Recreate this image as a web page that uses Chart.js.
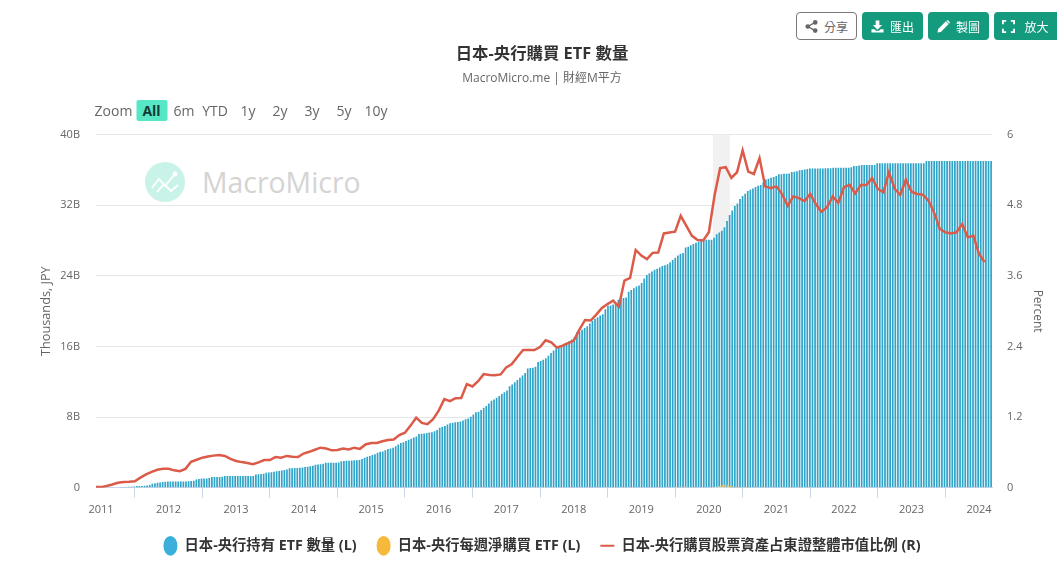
<!DOCTYPE html>
<html lang="zh-Hant">
<head>
<meta charset="utf-8">
<title>日本-央行購買 ETF 數量</title>
<script src="https://cdn.jsdelivr.net/npm/chart.js@4"></script>
<style>
html,body{margin:0;padding:0;background:#fff;}
#wrap{position:relative;width:1057px;height:584px;overflow:hidden;font-family:'Open Sans','Noto Sans CJK TC',sans-serif;}
canvas{position:absolute;left:0;top:0;}
.btn{position:absolute;top:12px;height:28px;box-sizing:border-box;border-radius:4px;background:#149b7e;color:#fff;font-size:12px;display:flex;align-items:center;justify-content:center;gap:6px;font-family:'Noto Sans CJK TC',sans-serif;}
.btn.share{background:#fff;border:1px solid #7a7a7a;color:#666;}
.btn svg{width:13px;height:13px;display:block;}
.rs{position:absolute;top:100px;height:21px;line-height:21px;font-size:14px;color:#666;text-align:center;font-family:'Open Sans',sans-serif;transform:translateX(-50%);}
.rs.on{left:151.5px;width:31px;background:#57e6c6;border-radius:2px;color:#123c35;font-weight:700;}
#wm{position:absolute;left:145px;top:162px;display:flex;align-items:center;}
#wmt{position:absolute;left:57px;top:0;line-height:40px;font-size:28.4px;color:#d4d4d4;font-family:'Open Sans',sans-serif;white-space:nowrap;}
</style>
</head>
<body>
<div id="wrap">
  <div id="wm">
    <svg width="40" height="40" viewBox="0 0 40 40"><circle cx="20" cy="20" r="20" fill="#c9f3e9"/><path d="M7 26 L14 17 L20 24 L29 13 M12 30 L19 22 L26 29 L33 23" fill="none" stroke="#fff" stroke-width="1.8"/><circle cx="30" cy="12" r="2.4" fill="#fff"/></svg>
    <div id="wmt">MacroMicro</div>
  </div>
  <canvas id="c" width="1057" height="584"></canvas>
  <div class="btn share" style="left:796px;width:61px"><svg viewBox="0 0 14 14"><g fill="#666"><circle cx="11" cy="2.6" r="2.5"/><circle cx="11" cy="11.4" r="2.5"/><circle cx="3" cy="7" r="2.5"/></g><path d="M11 2.6 L3 7 L11 11.4" stroke="#666" stroke-width="1.4" fill="none"/></svg><span>分享</span></div>
  <div class="btn" style="left:862px;width:61px"><svg viewBox="0 0 14 14" fill="#fff"><path d="M5 0.5h4v5h3L7 10.5 2 5.5h3z"/><path d="M0.5 10h3.2l1.6 1.6h3.4L10.3 10h3.2v3.5H.5z"/></svg><span>匯出</span></div>
  <div class="btn" style="left:928px;width:61px"><svg viewBox="0 0 14 14" fill="#fff"><path d="M0.5 13.5 L1.2 9.8 L9.6 1.4 L12.6 4.4 L4.2 12.8z"/><path d="M10.4 0.6 a1.3 1.3 0 0 1 1.8 0 l1.2 1.2 a1.3 1.3 0 0 1 0 1.8 l-.3.3 -3-3z"/></svg><span>製圖</span></div>
  <div class="btn" style="left:994px;width:63px;border-radius:4px 0 0 4px"><svg viewBox="0 0 14 14" fill="none" stroke="#fff" stroke-width="2"><path d="M1 4.5V1h3.5M9.500 1H13v3.500M13 9.500V13H9.500M4.500 13H1V9.500"/></svg><span style="margin-left:3px">放大</span></div>
  <div class="rs" style="left:113.5px">Zoom</div>
  <div class="rs on">All</div>
  <div class="rs" style="left:184px">6m</div>
  <div class="rs" style="left:215px">YTD</div>
  <div class="rs" style="left:248px">1y</div>
  <div class="rs" style="left:280px">2y</div>
  <div class="rs" style="left:312px">3y</div>
  <div class="rs" style="left:344px">5y</div>
  <div class="rs" style="left:376px">10y</div>
</div>
<script>
const chartTitle = '日本-央行購買 ETF 數量';
const chartSubtitle = 'MacroMicro.me | 財經M平方';
const seriesNames = ['日本-央行持有 ETF 數量 (L)', '日本-央行每週淨購買 ETF (L)', '日本-央行購買股票資產占東證整體市值比例 (R)'];
const yearTicks = [2011,2012,2013,2014,2015,2016,2017,2018,2019,2020,2021,2022,2023,2024];

// Holdings, billions, one reading per fortnight
const hold2010 = [0,0];
const hold2011 = [0,0,0,0,0,0,0,.08,.08,.08,.1,.12,.15,.19,.19,.19,.22,.26,.3,.45,.5,.55,.6,.64,.68,.7];
const hold2012 = [.7,.7,.7,.7,.7,.7,.7,.72,.75,.8,.92,.98,1.05,1.05,1.05,1.1,1.2,1.2,1.2,1.22,1.25,1.32,1.32,1.32,1.32,1.33];
const hold2013 = [1.33,1.33,1.33,1.33,1.33,1.33,1.33,1.5,1.52,1.55,1.58,1.7,1.72,1.75,1.8,1.85,1.9,1.95,2,2.05,2.2,2.2,2.22,2.22,2.25,2.3];
const hold2014 = [2.35,2.38,2.42,2.5,2.6,2.62,2.65,2.7,2.83,2.83,2.83,2.83,2.83,2.85,3,3.02,3.04,3.06,3.08,3.1,3.1,3.15,3.25,3.4,3.5,3.6];
const hold2015 = [3.7,3.8,3.95,4.07,4.1,4.25,4.38,4.45,4.52,4.7,4.9,5.05,5.15,5.3,5.42,5.55,5.7,5.8,6.08,6.12,6.15,6.2,6.25,6.28,6.4,6.55];
const hold2016 = [6.8,6.9,7,7.15,7.3,7.35,7.4,7.45,7.5,7.6,7.75,7.85,8.05,8.3,8.55,8.6,8.8,9.05,9.25,9.55,9.85,10,10.2,10.4,10.6,10.8];
const hold2017 = [11,11.5,11.7,11.95,12.2,12.45,12.7,13,13.5,13.55,13.6,13.7,14.25,14.35,14.5,14.65,14.95,15.25,15.55,15.8,15.9,16.1,16.3,16.45,16.6,16.8];
const hold2018 = [17,17.6,17.7,17.9,18.1,18.3,18.6,18.9,19.15,19.3,19.5,19.65,20.2,20.6,20.65,20.75,20.8,21.3,21.4,21.5,21.55,22.2,22.4,22.6,22.8,22.9];
const hold2019 = [23.2,23.7,24.1,24.3,24.5,24.7,24.8,24.95,25.1,25.2,25.3,25.55,25.8,26.05,26.3,26.5,26.6,27.2,27.3,27.45,27.6,27.75,27.85,28,28.05,28.1];
const hold2020 = [28.1,28.1,28.3,28.7,28.9,29.1,29.5,30.2,30.9,31.4,31.9,32.2,32.7,33.05,33.3,33.6,33.75,33.9,34.05,34.2,34.3,34.6,34.9,35,35.1,35.2];
const hold2021 = [35.3,35.5,35.5,35.55,35.55,35.6,35.75,35.8,35.85,35.95,36,36.05,36.1,36.15,36.15,36.15,36.15,36.15,36.15,36.2,36.2,36.2,36.25,36.25,36.25,36.25];
const hold2022 = [36.25,36.25,36.25,36.3,36.45,36.45,36.5,36.55,36.55,36.55,36.55,36.55,36.55,36.75,36.75,36.75,36.75,36.75,36.75,36.75,36.75,36.75,36.75,36.75,36.75,36.75];
const hold2023 = [36.75,36.75,36.75,36.75,36.75,36.75,37,37,37,37,37,37,37,37,37,37,37,37,37,37,37,37,37,37,37,37];
const hold2024 = [37.02,37.02,37.02,37.02,37.02,37.02];
const holdings = [].concat(hold2010,hold2011,hold2012,hold2013,hold2014,hold2015,hold2016,hold2017,hold2018,hold2019,hold2020,hold2021,hold2022,hold2023,hold2024);
const firstBarYear = 2010.955;
const barStepYears = 14/365.25;

// Weekly net purchases, billions
const netBuyYears = [2018.0,2018.8,2019.58,2019.65,2019.72,2020.12,2020.16,2020.2,2020.24,2020.28,2020.32,2020.36,2020.4,2020.48,2020.55,2020.78];
const netBuyValues = [.08,.1,.12,.15,.1,.15,.2,.28,.35,.3,.22,.18,.15,.1,.1,.1];

// Share of TOPIX market value, percent, monthly from Dec 2010
const pct2010 = [.01];
const pct2011 = [.01,.03,.055,.085,.095,.1,.11,.17,.225,.27,.305,.32];
const pct2012 = [.32,.295,.28,.32,.44,.475,.51,.53,.545,.555,.54,.49];
const pct2013 = [.455,.435,.42,.4,.43,.47,.47,.52,.51,.54,.525,.52];
const pct2014 = [.58,.61,.645,.68,.665,.635,.64,.665,.65,.68,.66,.735];
const pct2015 = [.76,.76,.79,.81,.82,.895,.935,1.055,1.19,1.1,1.08,1.165];
const pct2016 = [1.31,1.505,1.47,1.52,1.525,1.76,1.72,1.81,1.93,1.915,1.91,1.925];
const pct2017 = [2.045,2.1,2.225,2.34,2.34,2.34,2.39,2.505,2.47,2.38,2.415,2.455];
const pct2018 = [2.5,2.685,2.85,2.84,2.94,3.055,3.12,3.18,3.075,3.52,3.565,4.04];
const pct2019 = [3.945,3.885,3.99,3.995,4.32,4.335,4.35,4.62,4.45,4.28,4.21,4.2];
const pct2020 = [4.34,4.96,5.43,5.445,5.265,5.36,5.73,5.37,5.33,5.6,5.12,5.09];
const pct2021 = [5.12,4.99,4.79,4.95,4.92,4.87,4.99,4.82,4.69,4.765,4.95,4.84];
const pct2022 = [5.105,5.145,5,5.145,5.145,5.26,5.08,5.02,5.36,5.08,4.975,5.235];
const pct2023 = [5.03,4.99,4.98,4.88,4.68,4.4,4.34,4.32,4.34,4.48,4.255,4.28];
const pct2024 = [3.97,3.83];
const percent = [].concat(pct2010,pct2011,pct2012,pct2013,pct2014,pct2015,pct2016,pct2017,pct2018,pct2019,pct2020,pct2021,pct2022,pct2023,pct2024);

const recessionBand = [2020.06, 2020.31];

const FONT = "'Open Sans','Noto Sans CJK TC',sans-serif";
const xRange = [2010.926, 2024.192];

const bandPlugin = {
  id: 'band',
  afterLayout(chart) {
    // Centre the title, subtitle and legend 2px left of the plot centre, as in the reference
    chart.boxes.forEach(b => {
      if (b === chart.legend || (b.options && b.options.text)) { b.right -= 4; }
    });
  },
  beforeDatasetsDraw(chart) {
    const {ctx, chartArea, scales} = chart;
    const a = scales.x.getPixelForValue(recessionBand[0]);
    const b = scales.x.getPixelForValue(recessionBand[1]);
    ctx.save();
    ctx.fillStyle = '#f1f1f1';
    ctx.fillRect(a, chartArea.top, b - a, chartArea.bottom - chartArea.top);
    ctx.restore();
  }
};

new Chart(document.getElementById('c'), {
  type: 'bar',
  plugins: [bandPlugin],
  data: {
    datasets: [
      { label: seriesNames[0], yAxisID: 'y', backgroundColor: '#2ea4c8', borderWidth: 0, inflateAmount: 0, barThickness: 1.7, grouped: false, order: 3,
        data: holdings.map((v, i) => ({x: firstBarYear + i * barStepYears, y: v})) },
      { label: seriesNames[1], yAxisID: 'y', backgroundColor: '#f6c25e', borderWidth: 0, inflateAmount: 0, barThickness: 1.7, grouped: false, order: 2,
        data: netBuyValues.map((v, i) => ({x: netBuyYears[i], y: v})) },
      { label: seriesNames[2], type: 'line', yAxisID: 'y1', borderColor: '#dc5b48', backgroundColor: '#dc5b48', borderWidth: 2.5, pointRadius: 0, tension: 0, order: 1,
        data: percent.map((v, i) => ({x: 2011 + (i - 1) / 12, y: v})) }
    ]
  },
  options: {
    responsive: false,
    animation: false,
    layout: { padding: { left: 0, right: 0, top: 0, bottom: 21 } },
    plugins: {
      tooltip: { enabled: false },
      title: { display: true, text: chartTitle, fullSize: false, color: '#333', font: { family: FONT, size: 16.4, weight: '700' }, padding: { top: 44, bottom: 8 } },
      subtitle: { display: true, text: chartSubtitle, fullSize: false, color: '#666', font: { family: FONT, size: 12, weight: '400' }, padding: { top: 0, bottom: 48.5 } },
      legend: {
        position: 'bottom', fullSize: false,
        labels: {
          color: '#333', font: { family: FONT, size: 14.3, weight: '700' }, usePointStyle: true, pointStyleWidth: 14, boxHeight: 14, padding: 20,
          generateLabels(chart) {
            const styles = ['circle', 'circle', 'line'];
            const cols = ['#3aafd9', '#f6b93b', '#dc5b48'];
            return chart.data.datasets.map((d, i) => ({
              text: d.label, datasetIndex: i, fillStyle: cols[i], strokeStyle: cols[i], lineWidth: i === 2 ? 2 : 0, pointStyle: styles[i], fontColor: '#333'
            }));
          }
        }
      }
    },
    scales: {
      x: {
        type: 'linear', offset: false, min: xRange[0], max: xRange[1],
        afterBuildTicks(s) { s.ticks = yearTicks.map(v => ({value: v})); },
        afterFit(s) { s.height = 31; },
        grid: { display: true, drawOnChartArea: false, drawTicks: true, tickLength: 10, tickColor: '#ccd6eb', tickWidth: 1 },
        border: { display: true, color: '#ccd6eb' },
        ticks: { color: '#666', font: { family: FONT, size: 11 }, padding: 6, autoSkip: false, maxRotation: 0, callback: v => String(v) }
      },
      y: {
        position: 'left', min: 0, max: 40,
        afterFit(s) { s.width = 96; },
        grid: { color: '#e6e6e6', drawTicks: false, lineWidth: 1 },
        border: { display: false },
        title: { display: true, text: 'Thousands, JPY', color: '#666', font: { family: FONT, size: 12.7 }, padding: { top: 39, bottom: 0 } },
        ticks: { stepSize: 8, color: '#666', font: { family: FONT, size: 11 }, padding: 16, callback: v => v === 0 ? '0' : v + 'B' }
      },
      y1: {
        position: 'right', min: 0, max: 6,
        afterFit(s) { s.width = 65; },
        grid: { display: false, drawTicks: false },
        border: { display: false },
        title: { display: true, text: 'Percent', color: '#666', font: { family: FONT, size: 12 }, padding: { top: 12, bottom: 0 } },
        ticks: { stepSize: 1.2, color: '#666', font: { family: FONT, size: 11 }, padding: 15, callback: v => String(Number(v.toFixed(1))) }
      }
    }
  }
});
</script>
</body>
</html>
